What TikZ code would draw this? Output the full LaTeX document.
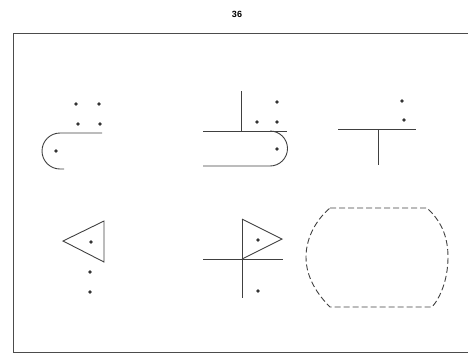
\documentclass[tikz,border=0pt]{standalone}
\usepackage{fontspec}
\setmainfont{Liberation Sans}
\begin{document}
\begin{tikzpicture}[x=1pt,y=-1pt,
  ln/.style={draw=black!75,line width=0.9pt},
  dotmark/.style={circle,fill=black!80,inner sep=0pt,minimum size=3.6pt},
  dsh/.style={draw=black!75,line width=0.9pt,dash pattern=on 6pt off 3pt},
  frm/.style={draw=black!70,line width=1pt}]
\useasboundingbox (0,0) rectangle (468,354);
% page number
\node[font=\fontsize{9}{10}\selectfont\bfseries] (pg) at (237,14) {36};
% frame
\draw[frm] (13,352) -- (13,33) -- (470,33);
\draw[frm] (13,352) -- (470,352);
% shape 1
\draw[ln] (102,133) -- (60,133) arc[start angle=270,end angle=90,radius=18] -- (64,169);
\foreach \p in {(76,104),(99,104),(78,124),(100,124),(56,151)} \node[dotmark] at \p {};
% shape 2
\draw[ln] (241,91) -- (241,131);
\draw[ln] (203,131) -- (287,131);
\draw[ln] (270,131) arc[start angle=270,end angle=450,radius=17.5] -- (203,166);
\foreach \p in {(277,102),(257,122),(277,122),(277,149)} \node[dotmark] at \p {};
% shape 3
\draw[ln] (338,129) -- (416,129);
\draw[ln] (378,129) -- (378,165);
\foreach \p in {(402,101),(404,120)} \node[dotmark] at \p {};
% shape 4
\draw[ln] (63,241) -- (104,221) -- (104,262) -- cycle;
\foreach \p in {(91,242),(90,272),(90,292)} \node[dotmark] at \p {};
% shape 5
\draw[ln] (242,219) -- (242,298);
\draw[ln] (203,259) -- (283,259);
\draw[ln] (242,219) -- (282,239) -- (242,259);
\foreach \p in {(258,240),(258,291)} \node[dotmark] at \p {};
% shape 6
\draw[dsh] (330,208) -- (427,208)
  .. controls (440,220) and (448,235) .. (448,257)
  .. controls (448,280) and (440,298) .. (432,307)
  -- (330,307)
  .. controls (318,295) and (306,278) .. (306,257)
  .. controls (306,236) and (318,218) .. (330,208);
\end{tikzpicture}
\end{document}
